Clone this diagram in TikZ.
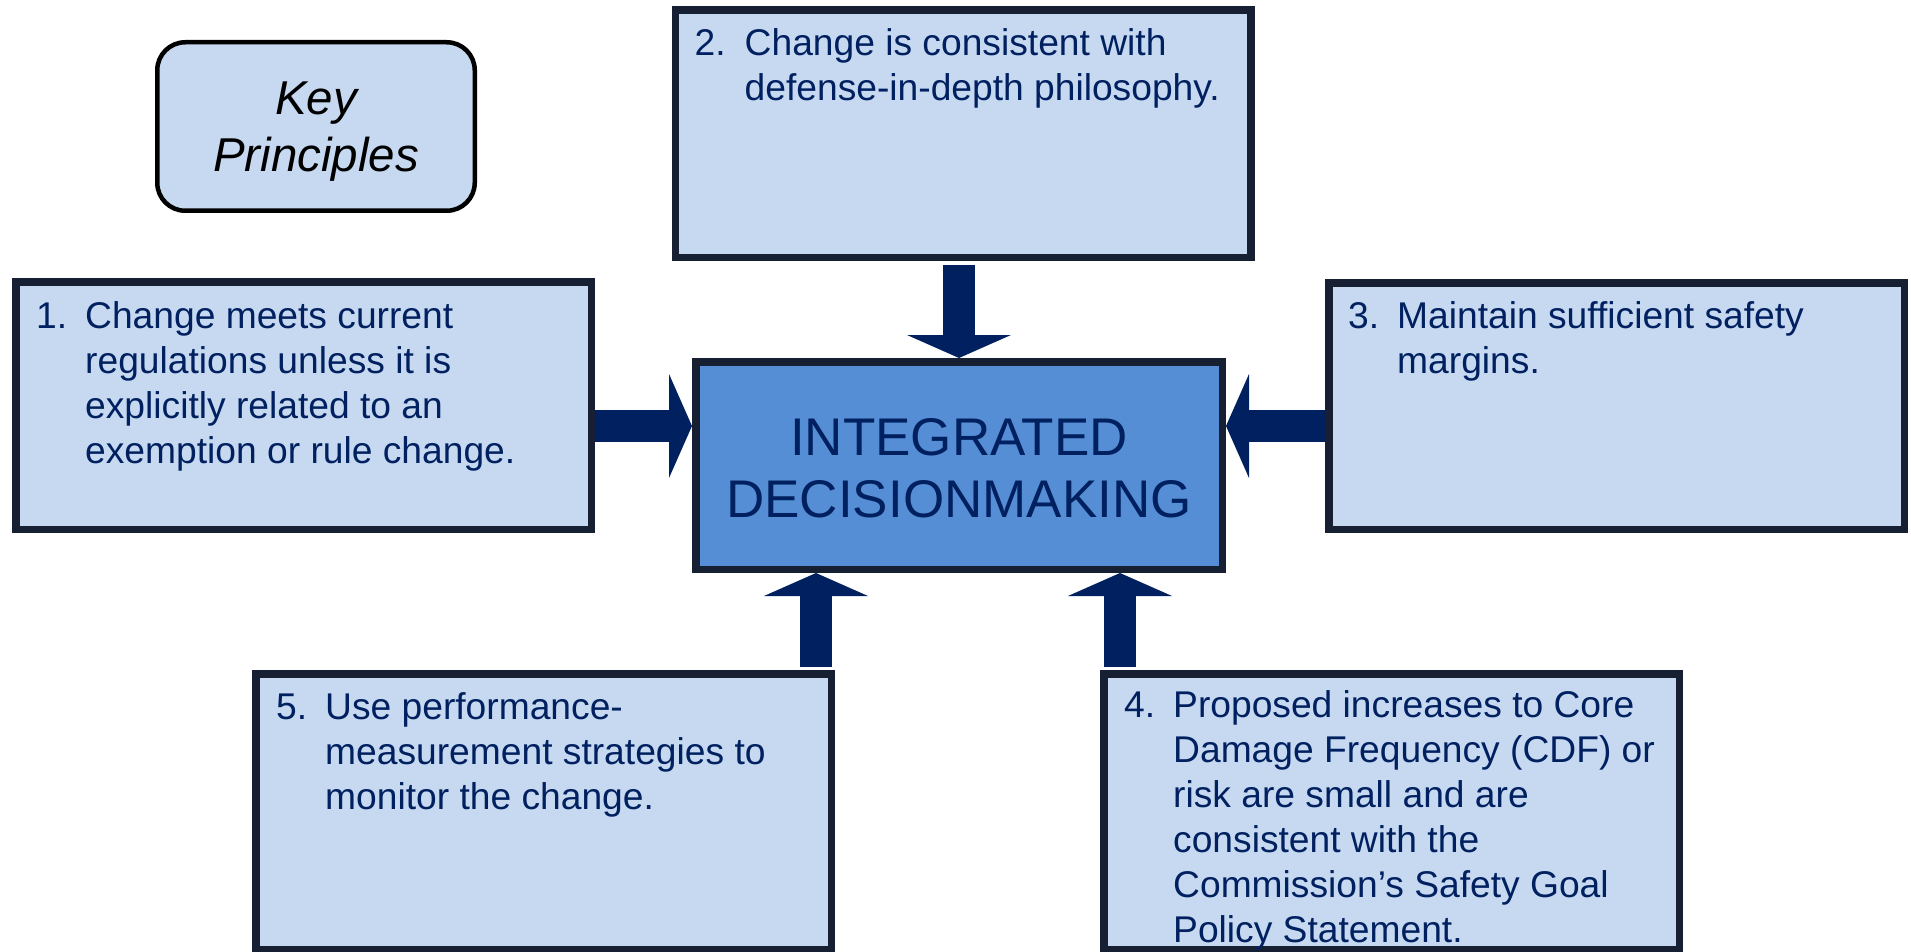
\documentclass[tikz,border=0pt]{standalone}
\usepackage{fontspec}
\setmainfont{Liberation Sans}
\usetikzlibrary{arrows.meta,calc}

\definecolor{boxfill}{RGB}{198,217,241}
\definecolor{hubfill}{RGB}{85,142,213}
\definecolor{edgeline}{RGB}{22,32,50}
\definecolor{navy}{RGB}{0,32,96}

\tikzset{
  panel/.style={rectangle, draw=edgeline, fill=boxfill, line width=7.5pt,
    inner sep=0pt, anchor=north west},
  hub/.style={panel, fill=hubfill},
  keybox/.style={rectangle, draw=black, fill=boxfill, line width=4.5pt,
    rounded corners=28pt, inner sep=0pt, anchor=north west},
  itemtext/.style={anchor=base west, inner sep=0pt, text=navy,
    font=\fontsize{37.2}{45}\selectfont},
  feed/.style={draw=navy, line width=32pt,
    -{Triangle[length=23pt,width=104pt,line width=0pt]}},
  feedgap/.style={feed, shorten <=3.5pt}
}

\begin{document}
\begin{tikzpicture}[x=1pt,y=-1pt]
\useasboundingbox (0,0) rectangle (1911,952);
\fill[white] (0,0) rectangle (1911,952);

% title box
\node[keybox, minimum width=317.5pt, minimum height=168.5pt] (key) at (155,40) {};
\node[anchor=base, inner sep=0pt, font=\fontsize{47.5}{57}\selectfont\itshape] (keytxt) at (316,115)
  {\begin{tabular}[t]{@{}c@{}}Key\\Principles\end{tabular}};

% principle boxes
\node[panel, minimum width=575.5pt, minimum height=247pt]   (b2) at (671.5,6.5) {};
\node[panel, minimum width=575.5pt, minimum height=247.5pt] (b1) at (12,278) {};
\node[panel, minimum width=575.5pt, minimum height=246.5pt] (b3) at (1325,279) {};
\node[panel, minimum width=575.5pt, minimum height=275.5pt] (b5) at (252,670) {};
\node[panel, minimum width=575.5pt, minimum height=275.5pt] (b4) at (1100,670) {};

% central box
\node[hub, minimum width=526.5pt, minimum height=207.5pt] (ctr) at (692,358) {};
\node[anchor=base, inner sep=0pt, text=navy, font=\fontsize{53}{62}\selectfont] (ctrtxt) at (959,455)
  {\begin{tabular}[t]{@{}c@{}}INTEGRATED\\DECISIONMAKING\end{tabular}};

% numbered texts
\node[itemtext] (n1) at ($(b1.north west)+(24,50)$) {1.};
\node[itemtext] (t1) at ($(b1.north west)+(73,50)$)
  {\begin{tabular}[t]{@{}l@{}}Change meets current\\regulations unless it is\\explicitly related to an\\exemption or rule change.\end{tabular}};

\node[itemtext] (n2) at ($(b2.north west)+(23,49)$) {2.};
\node[itemtext] (t2) at ($(b2.north west)+(73,49)$)
  {\begin{tabular}[t]{@{}l@{}}Change is consistent with\\defense-in-depth philosophy.\end{tabular}};

\node[itemtext] (n3) at ($(b3.north west)+(23,49)$) {3.};
\node[itemtext] (t3) at ($(b3.north west)+(72,49)$)
  {\begin{tabular}[t]{@{}l@{}}Maintain sufficient safety\\margins.\end{tabular}};

\node[itemtext] (n4) at ($(b4.north west)+(24,47)$) {4.};
\node[itemtext] (t4) at ($(b4.north west)+(73,47)$)
  {\begin{tabular}[t]{@{}l@{}}Proposed increases to Core\\Damage Frequency (CDF) or\\risk are small and are\\consistent with the\\Commission’s Safety Goal\\Policy Statement.\end{tabular}};

\node[itemtext] (n5) at ($(b5.north west)+(24,49)$) {5.};
\node[itemtext] (t5) at ($(b5.north west)+(73,49)$)
  {\begin{tabular}[t]{@{}l@{}}Use performance-\\measurement strategies to\\monitor the change.\end{tabular}};

% block arrows into the central box
\coordinate (rowL) at (0,426);
\coordinate (colL) at (816,0);
\coordinate (colR) at (1120,0);
\draw[feedgap] (ctr.north |- b2.south) -- (ctr.north);
\draw[feed] (b1.east |- rowL) -- (ctr.west |- rowL);
\draw[feed] (b3.west |- rowL) -- (ctr.east |- rowL);
\draw[feedgap] (colL |- b5.north) -- (colL |- ctr.south);
\draw[feedgap] (colR |- b4.north) -- (colR |- ctr.south);
\end{tikzpicture}
\end{document}
